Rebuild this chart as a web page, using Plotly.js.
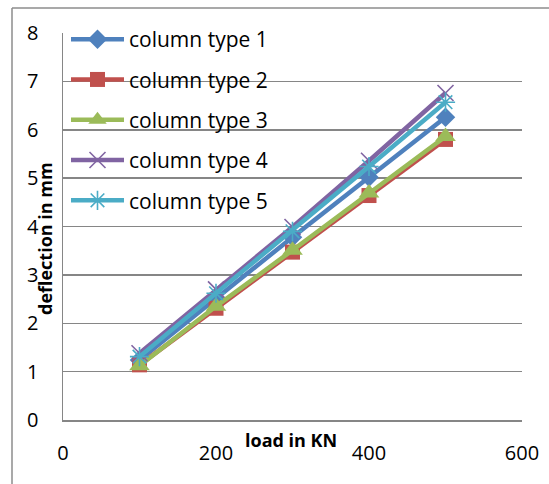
<!DOCTYPE html>
<html>
<head>
<meta charset="utf-8">
<script src="https://cdn.plot.ly/plotly-3.0.1.min.js"></script>
<style>
html,body{margin:0;padding:0;background:#fff;}
#chart{width:549px;height:484px;}
</style>
</head>
<body>
<div id="chart"></div>
<script>
// Data
var load = [100, 200, 300, 400, 500];
var seriesNames = ["column type 1", "column type 2", "column type 3", "column type 4", "column type 5"];
var type1 = [1.24, 2.52, 3.78, 5.02, 6.26];
var type2 = [1.14, 2.31, 3.47, 4.64, 5.80];
var type3 = [1.12, 2.35, 3.51, 4.69, 5.86];
var type4 = [1.38, 2.70, 3.99, 5.36, 6.76];
var type5 = [1.31, 2.62, 3.90, 5.24, 6.57];
var xTicks = [0, 200, 400, 600];
var yTicks = [0, 1, 2, 3, 4, 5, 6, 7, 8];

var colors = ["#4F81BD", "#C0504D", "#9BBB59", "#8064A2", "#4BACC6"];
var symbols = ["diamond", "square", "triangle-up", "x-thin-open", "asterisk-open"];
var msizes = [15, 15, 18, 16, 16];
var allY = [type1, type2, type3, type4, type5];

var FONT = "'Open Sans', Lato, sans-serif";

var traces = allY.map(function (ys, i) {
  return {
    x: load,
    y: ys,
    name: seriesNames[i],
    type: "scatter",
    mode: "lines+markers",
    legendgroup: "g" + i,
    line: {color: colors[i], width: 4.5},
    marker: {
      symbol: symbols[i],
      size: msizes[i],
      color: colors[i],
      line: {color: colors[i], width: (i >= 3 ? 1.6 : 0)}
    }
  };
});

var L = 63, R = 27, T = 33, B = 64, W = 549, H = 484;
var pw = W - L - R, ph = H - T - B;
function px(x) { return (x - L) / pw; }
function py(y) { return (H - B - y) / ph; }

var layout = {
  width: W,
  height: H,
  margin: {l: L, r: R, t: T, b: B, pad: 0},
  paper_bgcolor: "#ffffff",
  plot_bgcolor: "rgba(0,0,0,0)",
  font: {family: FONT, size: 20, color: "#000000"},
  showlegend: true,
  legend: {
    x: px(66), y: py(19), xanchor: "left", yanchor: "top",
    bgcolor: "rgba(0,0,0,0)",
    font: {family: FONT, size: 21, color: "#000"},
    traceorder: "grouped",
    tracegroupgap: 10,
    itemwidth: 53
  },
  xaxis: {
    range: [0, 600],
    tickvals: xTicks,
    ticktext: xTicks.map(String),
    showgrid: false,
    zeroline: false,
    showline: true,
    linecolor: "#868686",
    linewidth: 1.5,
    ticks: "",
    ticklabelstandoff: 14,
    tickfont: {family: FONT, size: 20, color: "#000"},
    fixedrange: true
  },
  yaxis: {
    range: [0, 8],
    tickvals: yTicks,
    ticktext: yTicks.map(String),
    showgrid: true,
    gridcolor: "#868686",
    gridwidth: 1.5,
    zeroline: false,
    showline: true,
    linecolor: "#868686",
    linewidth: 1.5,
    ticks: "",
    ticklabelstandoff: 19,
    tickfont: {family: FONT, size: 20, color: "#000"},
    fixedrange: true
  },
  shapes: [
    {type: "line", xref: "paper", yref: "paper", x0: px(12), x1: px(12), y0: py(8), y1: py(500), line: {color: "#8c8c8c", width: 1.5}},
    {type: "line", xref: "paper", yref: "paper", x0: px(12), x1: px(560), y0: py(8), y1: py(8), line: {color: "#8c8c8c", width: 1.5}}
  ],
  annotations: [
    {text: "<b>deflection in mm</b>", xref: "paper", yref: "paper", x: px(45), y: py(239), textangle: -90, showarrow: false, xanchor: "center", yanchor: "middle", font: {family: FONT, size: 18, color: "#000"}},
    {text: "<b>load in KN</b>", xref: "paper", yref: "paper", x: px(291), y: py(440), showarrow: false, xanchor: "center", yanchor: "middle", font: {family: FONT, size: 18, color: "#000"}}
  ]
};

Plotly.newPlot("chart", traces, layout, {displayModeBar: false, staticPlot: true});
</script>
</body>
</html>
